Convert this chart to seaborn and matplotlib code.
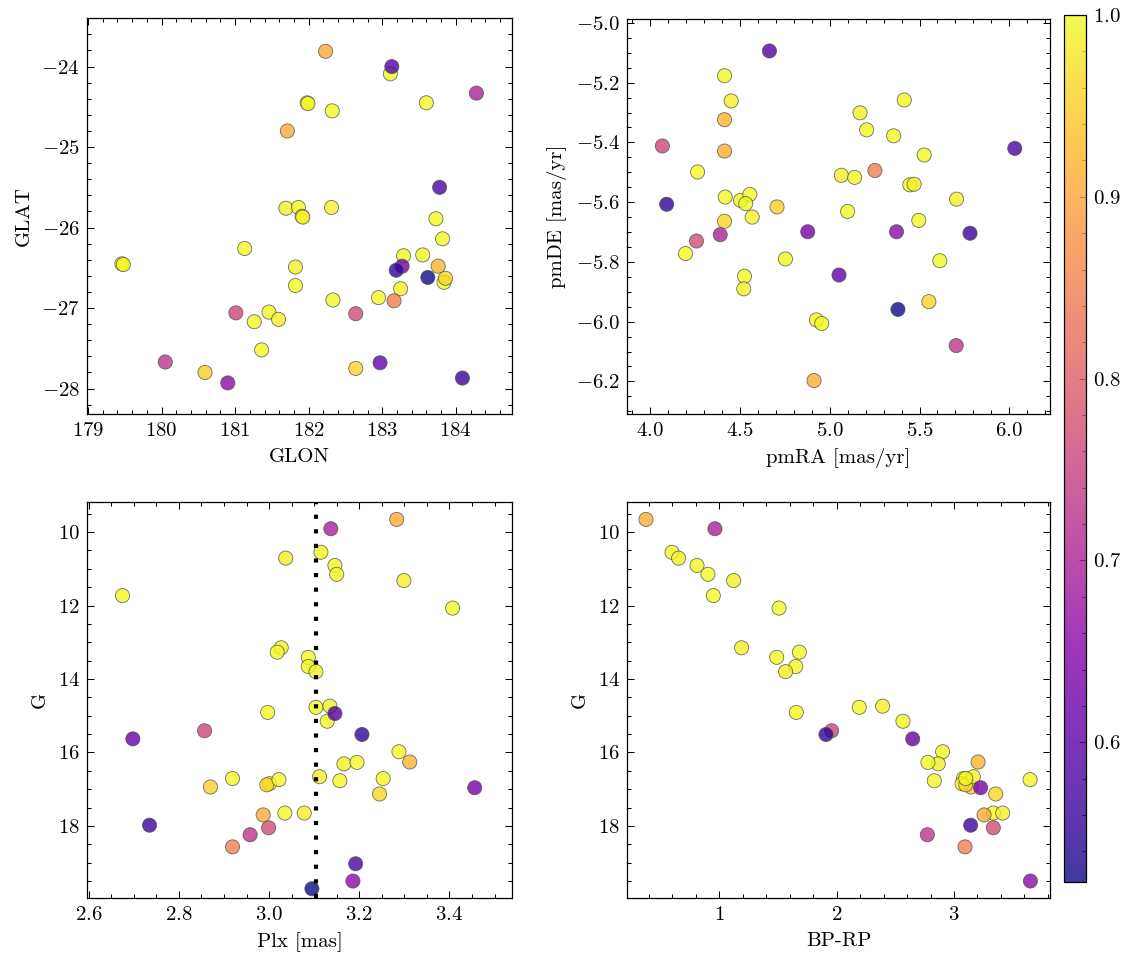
import numpy as np
import pandas as pd
import matplotlib
matplotlib.use("Agg")
import matplotlib.pyplot as plt
import seaborn as sns
from matplotlib.ticker import MultipleLocator, AutoMinorLocator
from matplotlib.colors import Normalize
from matplotlib.cm import ScalarMappable

nan = np.nan

# ---- data (one entry per star) ----
glon = [183.11, 181.98, 182.32, 183.60, 181.69, 181.86, 181.91, 182.31, 183.73, 183.82,
        181.13, 179.46, 183.29, 183.55, 181.82, 183.84, 181.82, 183.25, 182.95, 182.33,
        180.59, 181.46, 182.64, 181.26, 181.59, 181.36, 179.48, 183.86, 181.99, 181.92,
        183.76, 182.23, 181.71, 183.16, 182.64, 181.01, 180.05, 184.28, 180.90, 183.27,
        182.97, 183.13, 183.78, 184.09, 183.19, 183.62]
glat = [-24.09, -24.45, -24.55, -24.45, -25.76, -25.75, -25.86, -25.75, -25.89, -26.14,
        -26.26, -26.45, -26.35, -26.34, -26.49, -26.68, -26.72, -26.76, -26.87, -26.90,
        -27.80, -27.05, -27.75, -27.17, -27.14, -27.52, -26.46, -26.63, -24.46, -25.87,
        -26.48, -23.81, -24.80, -26.91, -27.07, -27.06, -27.67, -24.33, -27.93, -26.48,
        -27.68, -24.00, -25.50, -27.87, -26.53, -26.62]
pmra = [4.415, 4.452, 4.265, 4.419, 4.504, 4.556, 4.533, 4.569, 4.198, 4.754,
        4.526, 4.522, 4.926, 4.956, 5.065, 5.139, 5.100, 5.169, 5.206, 5.356,
        4.707, 5.415, 5.552, 5.446, 5.470, 5.496, 5.526, 4.415, 5.613, 5.706,
        4.415, 4.415, 4.913, 5.252, 4.259, 4.069, 5.704, 4.391, 5.372, 4.878,
        5.052, 4.665, 6.030, 5.781, 4.093, 5.380]
pmde = [-5.177, -5.261, -5.499, -5.583, -5.594, -5.574, -5.605, -5.650, -5.772, -5.790,
        -5.848, -5.890, -5.994, -6.006, -5.510, -5.517, -5.631, -5.301, -5.358, -5.378,
        -5.616, -5.258, -5.933, -5.542, -5.540, -5.661, -5.442, -5.664, -5.796, -5.590,
        -5.324, -5.429, -6.197, -5.494, -5.730, -5.412, -6.080, -5.709, -5.699, -5.699,
        -5.844, -5.094, -5.420, -5.704, -5.607, -5.959]
plx = [3.115, 3.037, 3.146, 3.150, 3.299, 2.675, 3.407, 3.027, 3.018, 3.087,
       3.087, 3.104, 2.997, 3.104, 3.135, 3.129, 3.288, 3.166, 3.195, 2.919,
       2.870, 3.001, 2.995, 3.022, 3.112, 3.157, 3.253, 3.245, 3.035, 3.078,
       3.312, 3.283, 2.987, 2.919, 2.999, 2.857, 2.958, 3.137, 3.186, 3.456,
       2.698, 3.146, 3.192, 2.735, 3.206, 3.095]
gmag = [10.55, 10.71, 10.91, 11.15, 11.32, 11.73, 12.07, 13.15, 13.27, 13.41,
        13.66, 13.80, 14.91, 14.77, 14.74, 15.15, 15.98, 16.31, 16.27, 16.71,
        16.94, 16.85, 16.88, 16.74, 16.66, 16.77, 16.71, 17.13, 17.65, 17.65,
        16.26, 9.655, 17.70, 18.57, 18.05, 15.41, 18.24, 9.91, 19.50, 16.96,
        15.63, 14.94, 19.03, 17.98, 15.51, 19.71]
bprp = [0.597, 0.653, 0.810, 0.903, 1.122, 0.949, 1.509, 1.190, 1.682, 1.489,
        1.651, 1.565, 1.656, 2.193, 2.392, 2.565, 2.903, 2.866, 2.778, 3.080,
        3.145, 3.068, 3.100, 3.648, 3.165, 2.832, 3.100, 3.355, 3.335, 3.415,
        3.205, 0.375, 3.256, 3.094, 3.335, 1.957, 2.773, 0.963, 3.651, 3.227,
        2.648, nan, nan, 3.142, 1.909, nan]
prob = [1.00, 0.99, 1.00, 1.00, 0.99, 1.00, 1.00, 0.99, 1.00, 1.00,
        1.00, 0.99, 1.00, 1.00, 0.99, 1.00, 1.00, 0.99, 1.00, 1.00,
        0.95, 1.00, 0.96, 1.00, 0.99, 1.00, 1.00, 0.96, 1.00, 0.99,
        0.92, 0.91, 0.91, 0.85, 0.77, 0.76, 0.73, 0.70, 0.66, 0.63,
        0.61, 0.59, 0.58, 0.56, 0.55, 0.523]
plx_line = 3.1035

df = pd.DataFrame({"GLON": glon, "GLAT": glat, "pmRA": pmra, "pmDE": pmde,
                   "Plx": plx, "G": gmag, "BP-RP": bprp, "prob": prob})

# ---- style ----
sns.set_style("ticks")
plt.rcParams.update({
    "font.family": ["cmr10"],
    "mathtext.fontset": "cm",
    "axes.formatter.use_mathtext": True,
    "axes.unicode_minus": True,
    "font.size": 10,
    "axes.labelsize": 10,
    "xtick.labelsize": 10,
    "ytick.labelsize": 10,
    "text.color": "black",
    "axes.labelcolor": "black",
    "axes.linewidth": 0.6,
    "axes.edgecolor": "black",
    "xtick.direction": "in", "ytick.direction": "in",
    "xtick.top": True, "ytick.right": True,
    "xtick.major.size": 3.2, "ytick.major.size": 3.2,
    "xtick.minor.size": 1.7, "ytick.minor.size": 1.7,
    "xtick.major.width": 0.5, "ytick.major.width": 0.5,
    "xtick.minor.width": 0.5, "ytick.minor.width": 0.5,
    "xtick.color": "black", "ytick.color": "black",
    "xtick.labelcolor": "black", "ytick.labelcolor": "black",
})

W, H = 1133, 965
fig = plt.figure(figsize=(W / 150, H / 150), dpi=150)

def ax_px(x0, x1, y0, y1):
    return fig.add_axes([x0 / W, 1 - y1 / H, (x1 - x0) / W, (y1 - y0) / H])

ax1 = ax_px(87.3, 511.7, 18.3, 414.3)
ax2 = ax_px(627.3, 1050.0, 19.3, 414.3)
ax3 = ax_px(87.3, 511.7, 502.3, 898.3)
ax4 = ax_px(627.3, 1050.0, 502.3, 898.3)

vmin, vmax = min(prob), max(prob)
norm = Normalize(vmin=vmin, vmax=vmax)
kw = dict(hue="prob", palette="plasma", hue_norm=norm, legend=False,
          s=46, alpha=0.8, edgecolor="0.3", linewidth=0.4)

sns.scatterplot(data=df, x="GLON", y="GLAT", ax=ax1, **kw)
sns.scatterplot(data=df, x="pmRA", y="pmDE", ax=ax2, **kw)
sns.scatterplot(data=df, x="Plx", y="G", ax=ax3, **kw)
sns.scatterplot(data=df, x="BP-RP", y="G", ax=ax4, **kw)
ax3.axvline(plx_line, color="black", lw=2.0, ls=(0, (1, 2.5)), dash_capstyle="butt")

ax1.set_xlim(178.99, 184.76); ax1.set_ylim(-28.32, -23.40)
ax1.xaxis.set_major_locator(MultipleLocator(1)); ax1.yaxis.set_major_locator(MultipleLocator(1))
ax1.set_xlabel("GLON"); ax1.set_ylabel("GLAT")

ax2.set_xlim(3.874, 6.226); ax2.set_ylim(-6.31, -4.988)
ax2.xaxis.set_major_locator(MultipleLocator(0.5)); ax2.yaxis.set_major_locator(MultipleLocator(0.2))
ax2.set_xlabel("pmRA [mas/yr]"); ax2.set_ylabel("pmDE [mas/yr]")

ax3.set_xlim(2.597, 3.538); ax3.set_ylim(19.97, 9.19)
ax3.xaxis.set_major_locator(MultipleLocator(0.2)); ax3.yaxis.set_major_locator(MultipleLocator(2))
ax3.set_xlabel("Plx [mas]"); ax3.set_ylabel("G")

ax4.set_xlim(0.216, 3.818); ax4.set_ylim(19.97, 9.19)
ax4.xaxis.set_major_locator(MultipleLocator(1)); ax4.yaxis.set_major_locator(MultipleLocator(2))
ax4.set_xlabel("BP-RP"); ax4.set_ylabel("G")

for ax in (ax1, ax2, ax3, ax4):
    ax.xaxis.set_minor_locator(AutoMinorLocator())
    ax.yaxis.set_minor_locator(AutoMinorLocator())
    ax.tick_params(which="both", direction="in", top=True, right=True,
                   colors="black", labelcolor="black")
    ax.xaxis.label.set_color("black")
    ax.yaxis.label.set_color("black")
    for sp in ax.spines.values():
        sp.set_visible(True)
        sp.set_linewidth(0.6)
        sp.set_color("black")

cax = ax_px(1064.0, 1085.5, 15.0, 882.3)
sm = ScalarMappable(norm=norm, cmap="plasma")
cb = fig.colorbar(sm, cax=cax, alpha=0.8)
cb.set_ticks([0.6, 0.7, 0.8, 0.9, 1.0])
cb.ax.yaxis.set_minor_locator(MultipleLocator(0.02))
cb.ax.tick_params(which="major", direction="in", length=3.5, width=0.5,
                  colors="black", labelcolor="black")
cb.ax.tick_params(which="minor", direction="in", length=2.0, width=0.5, colors="black")
cb.outline.set_linewidth(0.6)
cb.outline.set_edgecolor("black")

fig.savefig("out.png", dpi=150)
